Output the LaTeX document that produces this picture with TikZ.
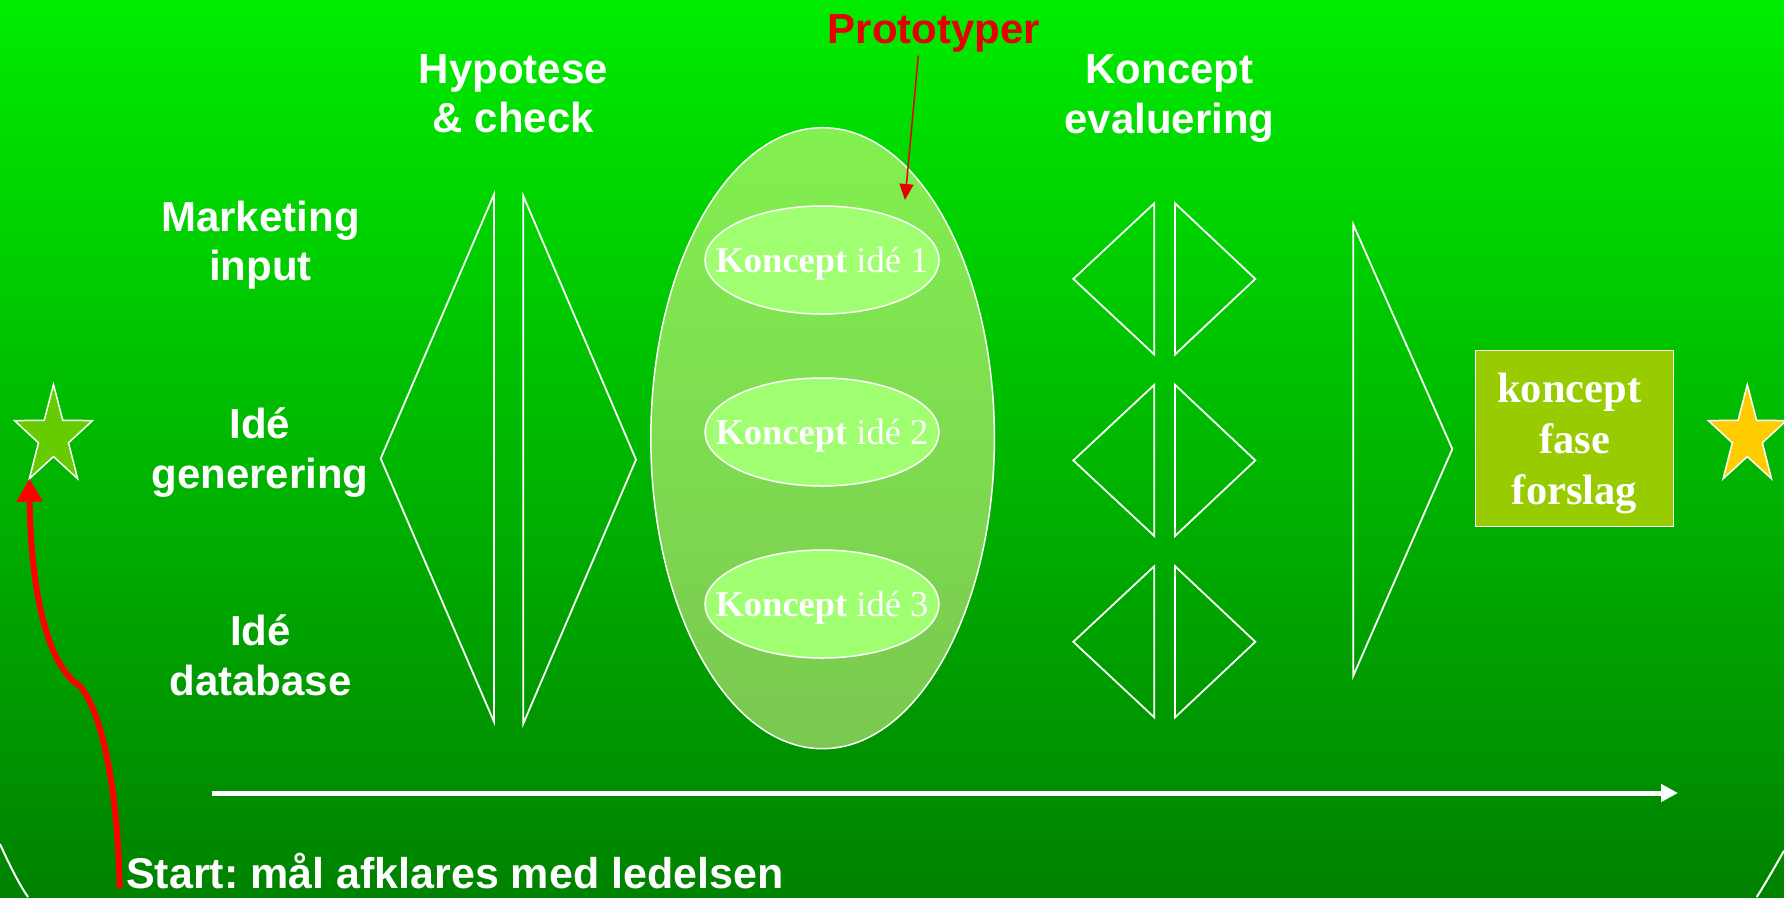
\documentclass[tikz,border=0pt]{standalone}
\usepackage{fontspec}
\setmainfont{Liberation Sans}
\newfontfamily\romanfont{Liberation Serif}
\usepackage{tikz}
\usetikzlibrary{
  arrows.meta,
  shapes.geometric
}

\definecolor{bgtop}{RGB}{0,236,0}
\definecolor{bgbot}{RGB}{0,130,0}
\definecolor{prototop}{RGB}{130,240,80}
\definecolor{protobot}{RGB}{122,200,80}
\definecolor{ideafill}{RGB}{160,255,112}
\definecolor{phasefill}{RGB}{153,204,0}
\definecolor{startfill}{RGB}{102,204,0}
\definecolor{goalfill}{RGB}{255,204,0}
\definecolor{protored}{RGB}{230,0,0}

\begin{document}
\frenchspacing
\begin{tikzpicture}[
    x=1pt, y=-1pt,
    lbl/.style={text=white, align=center,
                font=\bfseries\fontsize{42}{49.5}\selectfont},
    tri/.style={draw=white, line width=1.8pt},
    idea/.style={ellipse, draw=white, line width=1.5pt, fill=ideafill,
                 minimum width=234pt, minimum height=108pt, inner sep=0pt,
                 text depth=0pt, text=white,
                 font=\romanfont\fontsize{36.5}{42}\selectfont},
    goal/.style={star, star points=5, star point ratio=2.6, minimum size=104pt,
                 inner sep=0pt, outer sep=0pt, draw=white, line width=1.5pt,
                 xscale=0.79, transform shape},
  ]

  % Background
  \useasboundingbox (0,0) rectangle (1784,897);
  \clip (0,0) rectangle (1784,897);
  \fill[top color=bgtop, bottom color=bgbot] (0,0) rectangle (1784,897);
  \draw[white, line width=2pt] (0,844) .. controls (10,866) and (19,884) .. (28,897);
  \draw[white, line width=2pt] (1784,850.8) .. controls (1773,870) and (1765,884) .. (1756.7,897);

  % Headings (base = last line)
  \node[lbl, anchor=base] (hyp) at (513.5,132.7) {Hypotese\\\& check};
  \node[lbl, anchor=base] (eval) at (1169.5,133.3) {Koncept\\evaluering};
  \node[lbl, anchor=base, text=protored] (protolbl) at (934,43.3) {Prototyper};

  % Inputs
  \node[lbl, anchor=base] (mkt) at (260.5,280.7) {Marketing\\input};
  \node[lbl, anchor=base] (gen) at (260,488.3) {Idé\\generering};
  \node[lbl, anchor=base] (db) at (260.5,695) {Idé\\database};

  % Hypotese & check
  \draw[tri] (494,194.3) -- (380.7,458.6) -- (494,721.8) -- cycle;
  \draw[tri] (523.3,196) -- (636,459.6) -- (523.3,723.6) -- cycle;

  % Prototypes with concept ideas
  \node[ellipse, draw=white, line width=1.5pt, top color=prototop,
        bottom color=protobot, minimum width=343.6pt, minimum height=621pt,
        inner sep=0pt] (proto) at (822.6,438.2) {};
  \foreach \i/\y in {1/260, 2/432, 3/604}
    \node[idea] (idea\i) at (822,\y) {\makebox[0pt]{\textbf{Koncept} idé \i}};

  \coordinate (prototip) at (905,200);
  \draw[protored, line width=1.5pt, -{Triangle[length=16pt, width=14pt]}]
    ([xshift=-15.7pt]protolbl.south) -- (prototip);

  % Concept evaluation
  \foreach \y in {278.9, 460.4, 641.8} {
    \draw[tri] (1154.3,\y-75.6) -- (1073.3,\y) -- (1154.3,\y+75.6) -- cycle;
    \draw[tri] (1175,\y-75.6) -- (1255.3,\y) -- (1175,\y+75.6) -- cycle;
  }
  \draw[tri] (1353.3,224.6) -- (1452.3,449) -- (1353.3,675.7) -- cycle;

  % Result
  \node[draw=white, line width=1.5pt, fill=phasefill, minimum width=197.6pt,
        minimum height=176pt, text=white, align=center, text depth=0pt,
        font=\romanfont\bfseries\fontsize{42.5}{50.8}\selectfont]
    (phase) at (1574.5,438.7) {koncept\kern0.25em\\fase\\forslag};

  % Start and goal
  \node[goal, fill=startfill] (startstar) at (53.5,436.6) {};
  \node[goal, fill=goalfill] (endstar) at (1747.3,436.6) {};

  % Time line
  \coordinate (t0) at (211.6,793);
  \coordinate (t1) at (1678,793);
  \draw[white, line width=5pt, -{Triangle[length=17pt, width=17pt]}] (t0) -- (t1);

  % Start note
  \node[lbl, anchor=base west, inner sep=0pt, font=\bfseries\fontsize{43}{49.5}\selectfont]
    (startlbl) at (126,888.3) {Start: mål afklares med ledelsen};
  \draw[red, line width=6pt, -{Triangle[length=23pt, width=25pt]}]
    ([xshift=-6.4pt]startlbl.base west) .. controls (118,790) and (102,712) .. (80,686)
    .. controls (50,668) and (31,600) .. (startstar.outer point 3);

\end{tikzpicture}
\end{document}
